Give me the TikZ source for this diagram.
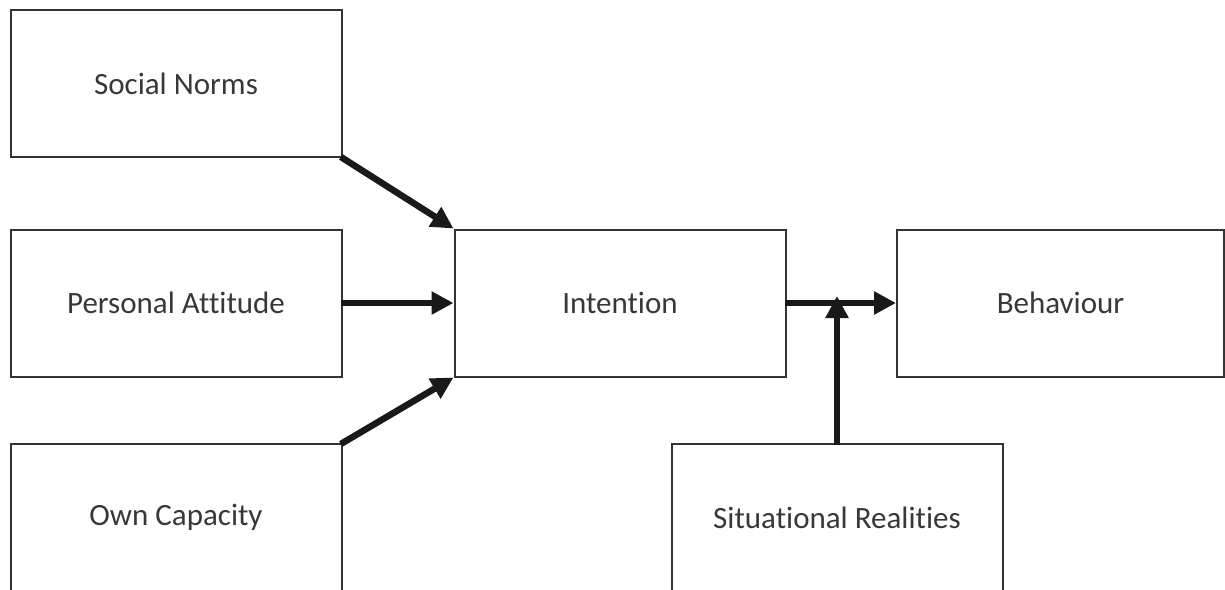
\documentclass[tikz,border=0pt]{standalone}
\usepackage{fontspec}
\setmainfont{Carlito}[Ligatures=NoCommon]
\usetikzlibrary{arrows.meta}

\begin{document}
\begin{tikzpicture}[x=1pt,y=-1pt,
    semithick,
    factor/.style={rectangle, draw=black!80, line width=2pt,
      text=black!78, font=\fontsize{31}{36}\selectfont,
      minimum width=331pt, minimum height=147pt, inner sep=0pt},
    link/.style={line width=6.5pt, draw=black!90,
      -{Triangle[length=22pt,width=22pt]}, shorten <=-2pt}
    ]
\useasboundingbox (0,0) rectangle (1225,589);
\clip (0,0) rectangle (1225,589);
\node[factor] (SN) at (176,83.5) {Social Norms};
\node[factor] (PA) at (176,303) {Personal Attitude};
\node[factor] (OC) at (176,517.5) {Own Capacity};
\node[factor] (IN) at (620,303) {Intention};
\node[factor, minimum width=327pt] (BE) at (1060.5,303) {Behaviour};
\node[factor] (SR) at (837,517.5) {Situational Realities};
\coordinate (J) at (837,302);
\draw[link] (SN.south east) -- (IN.north west);
\draw[link] (PA.east) -- (IN.west);
\draw[link] (OC.north east) -- (IN.south west);
\draw[link] (IN.east) -- (BE.west);
\draw[link] (SR.north) -- ([yshift=6pt]J);
\end{tikzpicture}
\end{document}
